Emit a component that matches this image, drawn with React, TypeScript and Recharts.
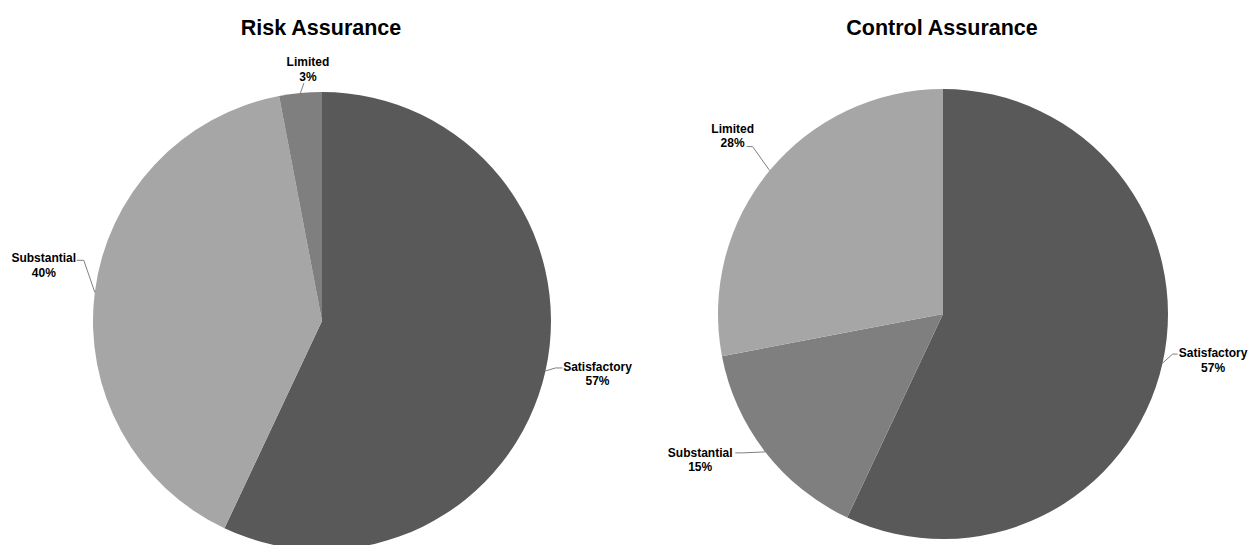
import React from 'react';
import { PieChart, Pie, Cell } from 'recharts';

// Slice categories and shares (%) for each assurance rating
const riskCategories = ['Satisfactory', 'Substantial', 'Limited'];
const riskValues = [57, 40, 3];
const controlCategories = ['Satisfactory', 'Substantial', 'Limited'];
const controlValues = [57, 15, 28];

const riskData = riskCategories.map((name, i) => ({ name, value: riskValues[i] }));
const controlData = controlCategories.map((name, i) => ({ name, value: controlValues[i] }));

const riskColors: Record<string, string> = {
  Satisfactory: '#595959',
  Substantial: '#a6a6a6',
  Limited: '#7f7f7f',
};
const controlColors: Record<string, string> = {
  Satisfactory: '#595959',
  Substantial: '#7f7f7f',
  Limited: '#a6a6a6',
};

type LabelSpot = { text: [number, number]; line: Array<[number, number]> };

// label placement relative to where the slice's mid angle meets the rim
const riskLabelSpots: Record<string, LabelSpot> = {
  Satisfactory: { text: [52, 0], line: [[10, -3], [17, -3]] },
  Substantial: { text: [-51, -30], line: [[-11, -32], [-18, -32]] },
  Limited: { text: [7.5, -27], line: [[3.5, -10]] },
};
const controlLabelSpots: Record<string, LabelSpot> = {
  Satisfactory: { text: [50.5, -6], line: [[10, -9], [15, -9]] },
  Substantial: { text: [-65, 5], line: [[-23, 1], [-30, 1]] },
  Limited: { text: [-37, -38], line: [[-17, -24], [-23, -24]] },
};

const RADIAN = Math.PI / 180;
const FONT = '"Liberation Sans", Arial, sans-serif';

const makeLabel = (spots: Record<string, LabelSpot>) => (props: any) => {
  const { cx, cy, midAngle, outerRadius, name, value } = props;
  const spot = spots[name];
  if (!spot) return null;
  const ex = cx + outerRadius * Math.cos(-midAngle * RADIAN);
  const ey = cy + outerRadius * Math.sin(-midAngle * RADIAN);
  const pts = [[ex, ey], ...spot.line.map(([dx, dy]) => [ex + dx, ey + dy])];
  const tx = ex + spot.text[0];
  const ty = ey + spot.text[1];
  return (
    <g>
      <polyline
        points={pts.map((p) => p.join(',')).join(' ')}
        fill="none"
        stroke="#7f7f7f"
        strokeWidth={1}
      />
      <text
        x={tx}
        y={ty}
        textAnchor="middle"
        fontFamily={FONT}
        fontWeight="bold"
        fontSize={12}
        fill="#000"
      >
        <tspan x={tx}>{name}</tspan>
        <tspan x={tx} dy={14.5}>{`${value}%`}</tspan>
      </text>
    </g>
  );
};

export default function App() {
  return (
    <div style={{ position: 'absolute', left: 0, top: 0, width: 1249, height: 545, background: '#fff' }}>
      <PieChart width={1249} height={545} margin={{ top: 0, right: 0, bottom: 0, left: 0 }}>
        <Pie
          data={riskData}
          dataKey="value"
          nameKey="name"
          cx={322}
          cy={321}
          outerRadius={229}
          startAngle={90}
          endAngle={-270}
          stroke="none"
          label={makeLabel(riskLabelSpots)}
          labelLine={false}
          isAnimationActive={false}
        >
          {riskData.map((d) => (
            <Cell key={`risk-${d.name}`} fill={riskColors[d.name]} />
          ))}
        </Pie>
        <Pie
          data={controlData}
          dataKey="value"
          nameKey="name"
          cx={943}
          cy={314}
          outerRadius={225}
          startAngle={90}
          endAngle={-270}
          stroke="none"
          label={makeLabel(controlLabelSpots)}
          labelLine={false}
          isAnimationActive={false}
        >
          {controlData.map((d) => (
            <Cell key={`control-${d.name}`} fill={controlColors[d.name]} />
          ))}
        </Pie>
      </PieChart>

      {/* Chart titles */}
      <svg
        width={1249}
        height={60}
        style={{ position: 'absolute', left: 0, top: 0, pointerEvents: 'none' }}
      >
        <text x={321} y={35} textAnchor="middle" fontFamily={FONT} fontWeight="bold" fontSize={21.5} fill="#000">
          Risk Assurance
        </text>
        <text x={942} y={35} textAnchor="middle" fontFamily={FONT} fontWeight="bold" fontSize={21.5} fill="#000">
          Control Assurance
        </text>
      </svg>
    </div>
  );
}
